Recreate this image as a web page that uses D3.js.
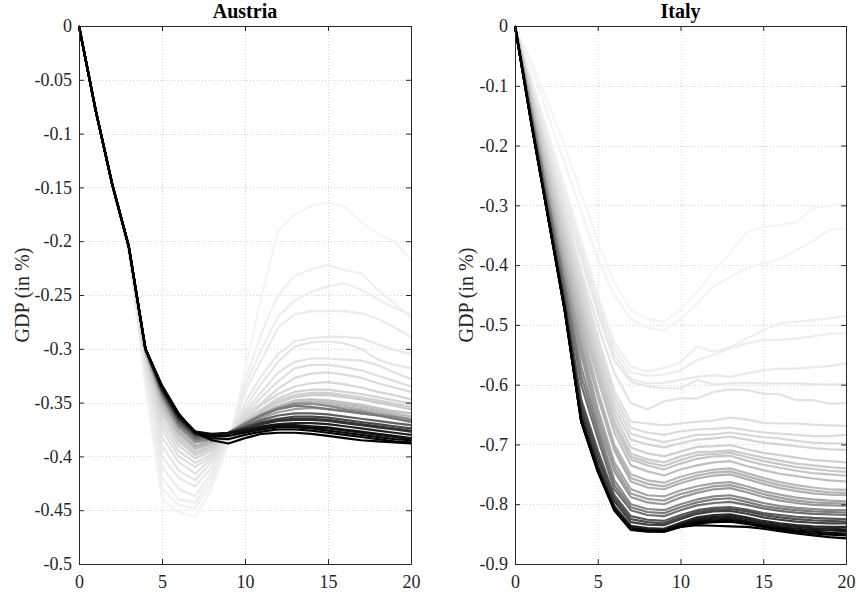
<!DOCTYPE html>
<html><head><meta charset="utf-8">
<script src="https://cdn.jsdelivr.net/npm/d3@7"></script>
<style>body{margin:0;background:#fff}svg{display:block}text{font-family:'Liberation Serif','Times New Roman',serif}</style>
</head><body>
<svg id="chart" width="859" height="594"></svg>
<script>
// ---------- data ----------
const horizons = [0,1,2,3,4,5,6,7,8,9,10,11,12,13,14,15,16,17,18,19,20];
const xTicks = [0,5,10,15,20];

const austriaTitle = "Austria";
const austriaYTicks = [0,-0.05,-0.1,-0.15,-0.2,-0.25,-0.3,-0.35,-0.4,-0.45,-0.5];
const austriaYTickLabels = ["0","-0.05","-0.1","-0.15","-0.2","-0.25","-0.3","-0.35","-0.4","-0.45","-0.5"];
const austriaShade = ["#f4f4f4","#f0f0f0","#eeeeee","#ebebeb","#e8e8e8","#e5e5e5","#e2e2e2","#dfdfdf","#dbdbdb","#d7d7d7","#d2d2d2","#d0d0d0","#cbcbcb","#c0c0c0","#bababa","#b2b2b2","#a0a0a0","#8c8c8c","#787878","#606060","#484848","#3a3a3a","#303030","#202020","#181818","#101010","#080808","#050505","#000000"];
const austriaSeries = [
 [0,-0.078,-0.147,-0.212,-0.335,-0.44,-0.452,-0.456,-0.43,-0.39,-0.32,-0.25,-0.19,-0.175,-0.167,-0.164,-0.168,-0.182,-0.193,-0.2,-0.218],
 [0,-0.078,-0.147,-0.211,-0.33,-0.43,-0.445,-0.448,-0.425,-0.388,-0.33,-0.285,-0.25,-0.232,-0.226,-0.222,-0.227,-0.23,-0.245,-0.258,-0.271],
 [0,-0.078,-0.147,-0.21,-0.325,-0.42,-0.44,-0.443,-0.42,-0.386,-0.335,-0.3,-0.27,-0.255,-0.247,-0.242,-0.239,-0.245,-0.254,-0.262,-0.268],
 [0,-0.078,-0.147,-0.21,-0.32,-0.41,-0.43,-0.437,-0.415,-0.385,-0.34,-0.31,-0.28,-0.268,-0.265,-0.265,-0.265,-0.267,-0.272,-0.28,-0.289],
 [0,-0.078,-0.147,-0.209,-0.318,-0.4,-0.42,-0.428,-0.41,-0.383,-0.35,-0.325,-0.305,-0.293,-0.29,-0.289,-0.289,-0.29,-0.296,-0.301,-0.305],
 [0,-0.078,-0.147,-0.209,-0.315,-0.39,-0.413,-0.422,-0.405,-0.382,-0.355,-0.332,-0.312,-0.298,-0.294,-0.293,-0.295,-0.3,-0.31,-0.315,-0.318],
 [0,-0.078,-0.147,-0.208,-0.312,-0.382,-0.405,-0.416,-0.402,-0.381,-0.358,-0.34,-0.322,-0.312,-0.309,-0.309,-0.31,-0.311,-0.315,-0.322,-0.328],
 [0,-0.078,-0.147,-0.208,-0.31,-0.375,-0.4,-0.41,-0.4,-0.38,-0.36,-0.345,-0.33,-0.318,-0.315,-0.315,-0.317,-0.32,-0.325,-0.33,-0.335],
 [0,-0.078,-0.147,-0.207,-0.308,-0.37,-0.395,-0.406,-0.398,-0.38,-0.362,-0.35,-0.337,-0.327,-0.323,-0.322,-0.324,-0.327,-0.332,-0.336,-0.34],
 [0,-0.078,-0.147,-0.207,-0.306,-0.365,-0.39,-0.402,-0.395,-0.38,-0.365,-0.352,-0.342,-0.335,-0.332,-0.331,-0.333,-0.336,-0.34,-0.343,-0.347],
 [0,-0.078,-0.147,-0.206,-0.305,-0.36,-0.386,-0.399,-0.393,-0.38,-0.366,-0.356,-0.346,-0.34,-0.338,-0.338,-0.34,-0.342,-0.345,-0.348,-0.351],
 [0,-0.078,-0.147,-0.206,-0.304,-0.358,-0.384,-0.397,-0.391,-0.38,-0.367,-0.357,-0.348,-0.343,-0.341,-0.341,-0.343,-0.345,-0.348,-0.351,-0.354],
 [0,-0.078,-0.147,-0.206,-0.304,-0.356,-0.382,-0.396,-0.39,-0.38,-0.368,-0.358,-0.35,-0.345,-0.343,-0.343,-0.345,-0.347,-0.35,-0.353,-0.356],
 [0,-0.078,-0.147,-0.206,-0.303,-0.352,-0.379,-0.393,-0.388,-0.38,-0.369,-0.36,-0.353,-0.348,-0.347,-0.348,-0.35,-0.352,-0.355,-0.358,-0.36],
 [0,-0.078,-0.147,-0.205,-0.302,-0.35,-0.378,-0.392,-0.387,-0.379,-0.37,-0.361,-0.354,-0.35,-0.349,-0.35,-0.352,-0.354,-0.357,-0.36,-0.363],
 [0,-0.078,-0.147,-0.205,-0.302,-0.348,-0.376,-0.39,-0.386,-0.379,-0.37,-0.362,-0.356,-0.352,-0.351,-0.352,-0.354,-0.356,-0.359,-0.362,-0.365],
 [0,-0.078,-0.147,-0.205,-0.301,-0.345,-0.373,-0.387,-0.385,-0.379,-0.371,-0.364,-0.359,-0.356,-0.355,-0.356,-0.358,-0.36,-0.362,-0.364,-0.367],
 [0,-0.078,-0.147,-0.205,-0.301,-0.344,-0.372,-0.386,-0.384,-0.378,-0.369,-0.361,-0.355,-0.351,-0.351,-0.353,-0.356,-0.358,-0.361,-0.363,-0.366],
 [0,-0.078,-0.147,-0.205,-0.3,-0.342,-0.37,-0.384,-0.383,-0.378,-0.37,-0.362,-0.356,-0.353,-0.354,-0.356,-0.358,-0.36,-0.362,-0.365,-0.368],
 [0,-0.078,-0.147,-0.205,-0.3,-0.34,-0.368,-0.382,-0.382,-0.378,-0.372,-0.366,-0.362,-0.36,-0.36,-0.361,-0.363,-0.365,-0.367,-0.369,-0.371],
 [0,-0.078,-0.147,-0.205,-0.3,-0.339,-0.366,-0.38,-0.381,-0.378,-0.373,-0.368,-0.365,-0.363,-0.363,-0.364,-0.366,-0.368,-0.37,-0.372,-0.374],
 [0,-0.078,-0.147,-0.205,-0.3,-0.338,-0.365,-0.38,-0.381,-0.379,-0.374,-0.369,-0.366,-0.365,-0.365,-0.366,-0.368,-0.37,-0.372,-0.374,-0.376],
 [0,-0.078,-0.147,-0.205,-0.3,-0.338,-0.364,-0.379,-0.38,-0.378,-0.374,-0.37,-0.367,-0.366,-0.366,-0.367,-0.369,-0.371,-0.373,-0.375,-0.377],
 [0,-0.078,-0.147,-0.205,-0.3,-0.337,-0.363,-0.378,-0.38,-0.378,-0.375,-0.372,-0.37,-0.369,-0.369,-0.37,-0.372,-0.374,-0.376,-0.378,-0.38],
 [0,-0.078,-0.147,-0.205,-0.3,-0.336,-0.362,-0.377,-0.38,-0.379,-0.377,-0.374,-0.372,-0.372,-0.373,-0.374,-0.376,-0.378,-0.38,-0.382,-0.384],
 [0,-0.078,-0.147,-0.205,-0.3,-0.336,-0.362,-0.377,-0.379,-0.378,-0.376,-0.373,-0.371,-0.371,-0.372,-0.373,-0.375,-0.377,-0.379,-0.381,-0.383],
 [0,-0.078,-0.147,-0.205,-0.3,-0.335,-0.361,-0.377,-0.381,-0.381,-0.378,-0.375,-0.373,-0.373,-0.374,-0.376,-0.378,-0.38,-0.382,-0.384,-0.385],
 [0,-0.078,-0.147,-0.205,-0.3,-0.335,-0.361,-0.378,-0.383,-0.384,-0.38,-0.377,-0.375,-0.375,-0.376,-0.378,-0.38,-0.382,-0.384,-0.386,-0.387],
 [0,-0.078,-0.147,-0.205,-0.3,-0.334,-0.36,-0.378,-0.385,-0.388,-0.383,-0.379,-0.378,-0.378,-0.379,-0.381,-0.383,-0.385,-0.386,-0.387,-0.388]
];

const italyTitle = "Italy";
const italyYTicks = [0,-0.1,-0.2,-0.3,-0.4,-0.5,-0.6,-0.7,-0.8,-0.9];
const italyYTickLabels = ["0","-0.1","-0.2","-0.3","-0.4","-0.5","-0.6","-0.7","-0.8","-0.9"];
const italyShade = ["#f5f5f5","#f3f3f3","#efefef","#ededed","#eaeaea","#e7e7e7","#e3e3e3","#dfdfdf","#dbdbdb","#d8d8d8","#d4d4d4","#d0d0d0","#cbcbcb","#c8c8c8","#c5c5c5","#bfbfbf","#b8b8b8","#b4b4b4","#b0b0b0","#a5a5a5","#9f9f9f","#989898","#888888","#7c7c7c","#707070","#585858","#4c4c4c","#404040","#282828","#1e1e1e","#141414","#0a0a0a","#000000","#000000"];
const italySeries = [
 [0,-0.06,-0.13,-0.2,-0.28,-0.36,-0.43,-0.475,-0.49,-0.495,-0.475,-0.445,-0.41,-0.38,-0.345,-0.337,-0.333,-0.328,-0.305,-0.3,-0.298],
 [0,-0.07,-0.15,-0.23,-0.31,-0.39,-0.45,-0.49,-0.505,-0.51,-0.49,-0.465,-0.436,-0.42,-0.405,-0.397,-0.39,-0.375,-0.36,-0.341,-0.338],
 [0,-0.09,-0.18,-0.27,-0.36,-0.45,-0.53,-0.57,-0.578,-0.572,-0.562,-0.536,-0.545,-0.537,-0.523,-0.509,-0.497,-0.495,-0.492,-0.489,-0.485],
 [0,-0.09,-0.19,-0.28,-0.37,-0.46,-0.54,-0.58,-0.585,-0.583,-0.576,-0.559,-0.55,-0.539,-0.531,-0.525,-0.525,-0.523,-0.519,-0.515,-0.514],
 [0,-0.1,-0.2,-0.29,-0.38,-0.47,-0.55,-0.59,-0.598,-0.597,-0.592,-0.587,-0.584,-0.587,-0.581,-0.576,-0.573,-0.573,-0.571,-0.569,-0.564],
 [0,-0.1,-0.2,-0.3,-0.39,-0.48,-0.56,-0.595,-0.603,-0.606,-0.606,-0.592,-0.6,-0.598,-0.597,-0.598,-0.598,-0.598,-0.599,-0.6,-0.599],
 [0,-0.11,-0.21,-0.31,-0.41,-0.5,-0.58,-0.631,-0.641,-0.628,-0.623,-0.623,-0.612,-0.608,-0.609,-0.615,-0.616,-0.626,-0.626,-0.632,-0.631],
 [0,-0.11,-0.22,-0.32,-0.42,-0.52,-0.61,-0.662,-0.665,-0.668,-0.665,-0.662,-0.66,-0.655,-0.658,-0.664,-0.665,-0.665,-0.667,-0.668,-0.669],
 [0,-0.11,-0.22,-0.33,-0.43,-0.53,-0.62,-0.672,-0.68,-0.684,-0.678,-0.675,-0.674,-0.672,-0.676,-0.68,-0.682,-0.684,-0.686,-0.686,-0.684],
 [0,-0.12,-0.23,-0.34,-0.44,-0.54,-0.63,-0.682,-0.69,-0.696,-0.69,-0.684,-0.683,-0.68,-0.684,-0.688,-0.69,-0.694,-0.697,-0.698,-0.698],
 [0,-0.12,-0.23,-0.34,-0.45,-0.55,-0.64,-0.692,-0.7,-0.705,-0.698,-0.692,-0.69,-0.687,-0.692,-0.697,-0.7,-0.703,-0.706,-0.708,-0.709],
 [0,-0.12,-0.24,-0.35,-0.46,-0.56,-0.65,-0.705,-0.715,-0.72,-0.712,-0.704,-0.703,-0.701,-0.708,-0.714,-0.718,-0.722,-0.726,-0.728,-0.73],
 [0,-0.13,-0.25,-0.36,-0.47,-0.57,-0.66,-0.715,-0.725,-0.73,-0.72,-0.713,-0.712,-0.71,-0.716,-0.722,-0.727,-0.732,-0.735,-0.738,-0.74],
 [0,-0.13,-0.25,-0.365,-0.475,-0.575,-0.665,-0.72,-0.73,-0.736,-0.726,-0.718,-0.716,-0.714,-0.721,-0.728,-0.733,-0.738,-0.741,-0.744,-0.746],
 [0,-0.13,-0.25,-0.37,-0.48,-0.58,-0.67,-0.725,-0.735,-0.742,-0.732,-0.724,-0.72,-0.719,-0.727,-0.734,-0.739,-0.744,-0.748,-0.75,-0.752],
 [0,-0.13,-0.26,-0.38,-0.49,-0.59,-0.68,-0.735,-0.745,-0.752,-0.742,-0.735,-0.73,-0.728,-0.736,-0.743,-0.749,-0.753,-0.757,-0.76,-0.762],
 [0,-0.14,-0.27,-0.39,-0.5,-0.61,-0.7,-0.75,-0.76,-0.764,-0.754,-0.747,-0.742,-0.74,-0.748,-0.756,-0.763,-0.768,-0.772,-0.775,-0.776],
 [0,-0.14,-0.27,-0.395,-0.51,-0.615,-0.705,-0.756,-0.766,-0.77,-0.76,-0.752,-0.747,-0.745,-0.753,-0.761,-0.768,-0.773,-0.777,-0.78,-0.781],
 [0,-0.14,-0.27,-0.4,-0.52,-0.62,-0.71,-0.762,-0.772,-0.775,-0.765,-0.757,-0.752,-0.75,-0.758,-0.766,-0.773,-0.778,-0.782,-0.784,-0.785],
 [0,-0.14,-0.28,-0.41,-0.53,-0.64,-0.73,-0.775,-0.785,-0.787,-0.777,-0.77,-0.765,-0.763,-0.77,-0.778,-0.784,-0.789,-0.792,-0.794,-0.795],
 [0,-0.145,-0.285,-0.415,-0.54,-0.65,-0.738,-0.782,-0.791,-0.794,-0.783,-0.776,-0.77,-0.768,-0.775,-0.783,-0.789,-0.794,-0.797,-0.798,-0.799],
 [0,-0.15,-0.29,-0.42,-0.55,-0.66,-0.745,-0.788,-0.797,-0.8,-0.789,-0.781,-0.775,-0.773,-0.78,-0.788,-0.794,-0.798,-0.801,-0.802,-0.803],
 [0,-0.15,-0.29,-0.43,-0.57,-0.67,-0.76,-0.8,-0.808,-0.81,-0.8,-0.792,-0.787,-0.785,-0.791,-0.798,-0.803,-0.806,-0.808,-0.81,-0.81],
 [0,-0.152,-0.295,-0.435,-0.585,-0.68,-0.768,-0.805,-0.813,-0.815,-0.805,-0.797,-0.792,-0.79,-0.796,-0.803,-0.807,-0.81,-0.812,-0.813,-0.814],
 [0,-0.155,-0.3,-0.44,-0.6,-0.69,-0.775,-0.81,-0.818,-0.82,-0.81,-0.802,-0.798,-0.796,-0.801,-0.807,-0.811,-0.814,-0.816,-0.817,-0.818],
 [0,-0.16,-0.31,-0.455,-0.625,-0.71,-0.785,-0.82,-0.826,-0.828,-0.818,-0.81,-0.806,-0.805,-0.809,-0.815,-0.818,-0.821,-0.823,-0.824,-0.825],
 [0,-0.16,-0.312,-0.46,-0.632,-0.718,-0.79,-0.825,-0.83,-0.832,-0.822,-0.813,-0.809,-0.808,-0.812,-0.818,-0.822,-0.825,-0.827,-0.828,-0.829],
 [0,-0.16,-0.315,-0.465,-0.64,-0.725,-0.795,-0.83,-0.834,-0.835,-0.825,-0.816,-0.812,-0.811,-0.816,-0.822,-0.826,-0.829,-0.831,-0.832,-0.832],
 [0,-0.163,-0.318,-0.47,-0.65,-0.735,-0.803,-0.836,-0.84,-0.841,-0.831,-0.822,-0.818,-0.817,-0.822,-0.828,-0.832,-0.835,-0.837,-0.838,-0.838],
 [0,-0.164,-0.319,-0.472,-0.655,-0.738,-0.806,-0.838,-0.842,-0.843,-0.833,-0.825,-0.821,-0.82,-0.825,-0.831,-0.835,-0.838,-0.84,-0.841,-0.842],
 [0,-0.165,-0.32,-0.475,-0.66,-0.742,-0.808,-0.84,-0.843,-0.844,-0.835,-0.827,-0.824,-0.823,-0.828,-0.834,-0.838,-0.841,-0.843,-0.844,-0.845],
 [0,-0.165,-0.32,-0.475,-0.661,-0.744,-0.809,-0.841,-0.844,-0.845,-0.836,-0.83,-0.827,-0.826,-0.83,-0.836,-0.84,-0.844,-0.846,-0.848,-0.849],
 [0,-0.165,-0.32,-0.475,-0.662,-0.745,-0.81,-0.842,-0.845,-0.846,-0.838,-0.832,-0.83,-0.829,-0.833,-0.838,-0.842,-0.846,-0.849,-0.851,-0.852],
 [0,-0.165,-0.32,-0.475,-0.662,-0.745,-0.81,-0.843,-0.846,-0.846,-0.838,-0.835,-0.836,-0.837,-0.838,-0.841,-0.845,-0.849,-0.852,-0.855,-0.857]
];

const yAxisLabel = "GDP (in %)";

// ---------- drawing ----------
const svg = d3.select("#chart");
const FONT = "'Liberation Serif','Times New Roman',serif";
const AXC = "#262626";

function drawPanel(cfg) {
  const {left, right, top, bottom, yMin, yTicks, yLabels, series, shades, title, labelX} = cfg;
  const x = d3.scaleLinear().domain([0, 20]).range([left, right]);
  const y = d3.scaleLinear().domain([yMin, 0]).range([bottom, top]);
  const g = svg.append("g");

  // grid
  const grid = g.append("g").attr("stroke", "#d6d6d6").attr("stroke-width", 1)
    .attr("stroke-dasharray", "1,2");
  grid.selectAll(".gx").data(xTicks.filter(t => t > 0 && t < 20)).join("line")
    .attr("x1", d => Math.round(x(d)) + 0.5).attr("x2", d => Math.round(x(d)) + 0.5)
    .attr("y1", top).attr("y2", bottom);
  grid.selectAll(".gy").data(yTicks.filter(t => t < 0 && t > yMin)).join("line")
    .attr("y1", d => Math.round(y(d)) + 0.5).attr("y2", d => Math.round(y(d)) + 0.5)
    .attr("x1", left).attr("x2", right);

  // series
  const line = d3.line().x((d, i) => x(horizons[i])).y(d => y(d));
  g.append("g").selectAll("path").data(series).join("path")
    .attr("d", line)
    .attr("fill", "none")
    .attr("stroke", (d, i) => shades[i])
    .attr("stroke-width", 2.2)
    .attr("stroke-linejoin", "round");

  // axes (box with inward ticks)
  const tickLen = 5;
  const fmt = d => yLabels[yTicks.indexOf(d)];
  const ax = [
    g.append("g").attr("transform", `translate(0,${bottom})`)
      .call(d3.axisBottom(x).tickValues(xTicks).tickSizeInner(-tickLen).tickSizeOuter(0).tickPadding(11)),
    g.append("g").attr("transform", `translate(0,${top})`)
      .call(d3.axisTop(x).tickValues(xTicks).tickSizeInner(-tickLen).tickSizeOuter(0).tickFormat("")),
    g.append("g").attr("transform", `translate(${left},0)`)
      .call(d3.axisLeft(y).tickValues(yTicks).tickFormat(fmt).tickSizeInner(-tickLen).tickSizeOuter(0).tickPadding(7)),
    g.append("g").attr("transform", `translate(${right},0)`)
      .call(d3.axisRight(y).tickValues(yTicks).tickSizeInner(-tickLen).tickSizeOuter(0).tickFormat(""))
  ];
  ax.forEach(a => {
    a.attr("font-family", FONT).attr("font-size", 18);
    a.selectAll("path.domain").attr("stroke", AXC).attr("stroke-width", 1);
    a.selectAll(".tick line").attr("stroke", AXC).attr("stroke-width", 1);
    a.selectAll(".tick text").attr("fill", AXC).attr("font-family", FONT).attr("font-size", 18);
  });

  // title
  svg.append("text").attr("x", (left + right) / 2).attr("y", 18)
    .attr("text-anchor", "middle").attr("font-family", FONT).attr("font-size", 20)
    .attr("font-weight", "bold").attr("fill", "#000").text(title);

  // y label
  svg.append("text")
    .attr("transform", `translate(${labelX},${(top + bottom) / 2}) rotate(-90)`)
    .attr("text-anchor", "middle").attr("dy", "0.35em")
    .attr("font-family", FONT).attr("font-size", 20).attr("fill", AXC)
    .text(yAxisLabel);
}

drawPanel({left: 79, right: 411, top: 26, bottom: 564, yMin: -0.5,
  yTicks: austriaYTicks, yLabels: austriaYTickLabels, series: austriaSeries,
  shades: austriaShade, title: austriaTitle, labelX: 22});
drawPanel({left: 515, right: 846, top: 26, bottom: 564, yMin: -0.9,
  yTicks: italyYTicks, yLabels: italyYTickLabels, series: italySeries,
  shades: italyShade, title: italyTitle, labelX: 466});
</script>
</body></html>
